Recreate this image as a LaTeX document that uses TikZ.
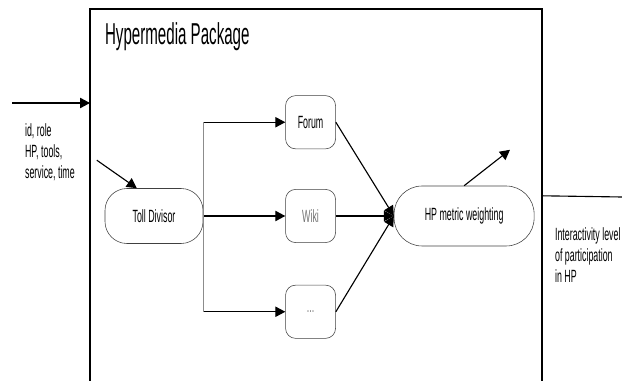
\documentclass[tikz,border=0pt]{standalone}
\usepackage{fontspec}
\setmainfont{Liberation Sans}[FakeStretch=0.5]
\usetikzlibrary{positioning, arrows.meta, calc}

\begin{document}
\begin{tikzpicture}[
    pill/.style={draw=black!75, rounded corners=0.55cm, minimum width=2.45cm, minimum height=1.375cm, align=center, font=\fontsize{12.6}{14}\selectfont},
    tool/.style={draw=black!75, rounded corners=0.25cm, minimum width=1.25cm, minimum height=1.33cm, font=\fontsize{12.6}{14}\selectfont},
    arrow/.style={-{Triangle[length=0.25cm, width=0.26cm]}, thick},
    label/.style={align=left, inner sep=0pt, font=\fontsize{12.6}{14.8}\selectfont}
]
\useasboundingbox (0,0) rectangle (15.55,9.525);

% Package frame (open at the bottom)
\draw[line width=1.1pt] (2.25,0) -- (2.25,9.3) -- (13.55,9.3) -- (13.55,0);
\draw[line width=2pt] (2.25,9.3) -- (13.55,9.3);
\node[anchor=west, inner sep=0pt, font=\fontsize{21.5}{24}\selectfont] (title) at (2.62,8.6) {Hypermedia Package};

% Components
\node[pill] (toll) at (3.85,4.125) {Toll Divisor};
\node[tool, right=2.05cm of toll] (wiki) {\textcolor{black!55}{Wiki}};
\node[tool, above=1cm of wiki] (forum) {Forum};
\node[tool, below=1.05cm of wiki] (dots) {\textcolor{black!50}{...}};
\node[pill, minimum width=3.5cm, minimum height=1.5cm, rounded corners=0.7cm, right=1.45cm of wiki] (hp) {HP metric weighting};

% Inputs and outputs
\coordinate (inS) at (0.3,6.95);
\coordinate (inE) at (2.25,6.95);
\coordinate (idS) at (2.42,5.52);
\coordinate (hpE) at (12.75,5.78);
\coordinate (outS) at (13.55,4.63);
\coordinate (outE) at (15.55,4.6);

% Connections
\draw[arrow] (inS) -- (inE);
\draw[arrow] (idS) -- ([xshift=-0.43cm]toll.north);
\draw[arrow] (toll.east) -- (wiki.west);
\draw[arrow] (toll.east) |- (forum.west);
\draw[arrow] (toll.east) |- (dots.west);
\draw[draw=black!45, thick] (toll.east |- forum.west) -- (toll.east |- dots.west);
\draw[arrow] (forum.east) -- (hp.west);
\draw[arrow] (wiki.east) -- (hp.west);
\draw[arrow] (dots.east) -- (hp.west);
\draw[arrow] (hp.north) -- (hpE);
\draw[thick] (outS) -- (outE);

% Labels
\node[label, anchor=west] (inputs) at (0.62,5.72) {id, role\\HP, tools,\\service, time};
\node[label, anchor=west] (result) at (13.87,3.15) {Interactivity level\\of participation\\in HP};

\end{tikzpicture}
\end{document}
